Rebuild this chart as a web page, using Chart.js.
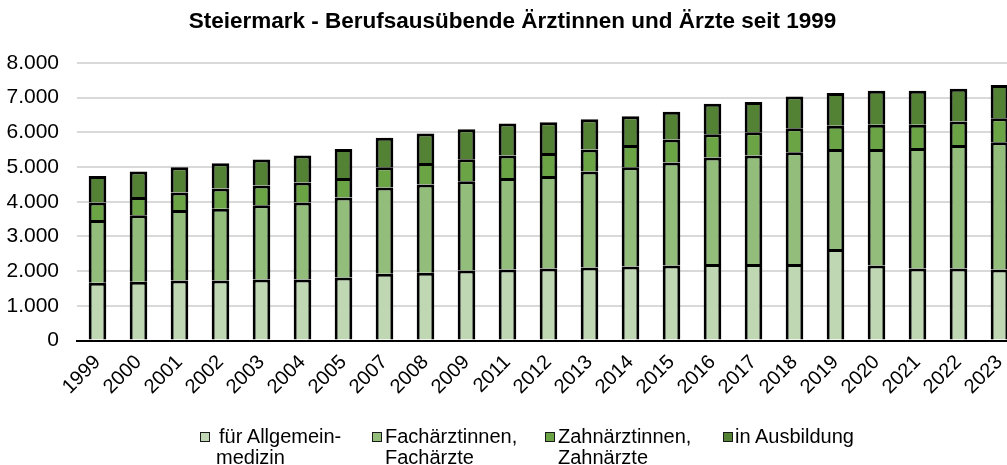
<!DOCTYPE html>
<html>
<head>
<meta charset="utf-8">
<script src="https://cdn.jsdelivr.net/npm/chart.js@4"></script>
<style>
html, body { margin: 0; padding: 0; background: #fff; overflow: hidden; }
#wrap { position: relative; width: 1020px; height: 465px; }
#legend { position: absolute; left: 0; top: 0; font-family: "Liberation Sans", Arial, sans-serif; font-size: 20px; color: #000; }
.item { position: absolute; top: 426px; line-height: 21px; white-space: nowrap; }
.box { position: absolute; top: 6px; width: 8px; height: 8px; border: 1.5px solid #1a1a1a; }
</style>
</head>
<body>
<div id="wrap">
  <canvas id="mycanvas"></canvas>
  <div id="legend"></div>
</div>
<script>
var years = ['1999','2000','2001','2002','2003','2004','2005','2007','2008','2009','2011','2012','2013','2014','2015','2016','2017','2018','2019','2020','2021','2022','2023'];

// Ärztinnen und Ärzte für Allgemeinmedizin
var allgemein = [1666,1695,1733,1733,1761,1761,1819,1926,1955,2021,2050,2079,2108,2137,2166,2204,2204,2204,2637,2166,2079,2079,2050];
// Fachärztinnen, Fachärzte
var fach = [1808,1914,2030,2069,2137,2215,2301,2483,2541,2570,2637,2665,2763,2859,2965,3071,3129,3225,2887,3358,3474,3561,3668];
// Zahnärztinnen, Zahnärzte
var zahn = [502,529,502,578,569,577,567,587,624,636,646,665,636,644,664,674,673,693,665,694,665,675,693];
// in Ausbildung
var ausbildung = [768,733,731,731,750,780,837,846,848,866,924,886,875,828,798,875,867,914,943,981,981,942,953];

var seriesNames = [['für Allgemein-', 'medizin'], ['Fachärztinnen,', 'Fachärzte'], ['Zahnärztinnen,', 'Zahnärzte'], ['in Ausbildung']];
var seriesColors = ['#bfd7b2', '#93bd7b', '#6aa444', '#548235'];

var chartdata = {
  labels: years,
  datasets: [allgemein, fach, zahn, ausbildung].map(function (d, i) {
    return {
      label: seriesNames[i].join(' '),
      data: d,
      backgroundColor: seriesColors[i],
      borderColor: '#000',
      borderWidth: 3,
      barPercentage: 0.43,
      categoryPercentage: 1
    };
  })
};

Chart.defaults.font.family = '"Liberation Sans", Arial, sans-serif';
Chart.defaults.color = '#000';

var ctx = document.querySelector('#mycanvas');
var barGraph = new Chart(ctx, {
  type: 'bar',
  data: chartdata,
  options: {
    responsive: true,
    maintainAspectRatio: false,
    animation: false,
    layout: { padding: { left: 5, right: 0, top: 6, bottom: 64 } },
    plugins: {
      title: {
        display: true,
        text: 'Steiermark - Berufsausübende Ärztinnen und Ärzte seit 1999',
        font: { size: 22.5, weight: 'bold' },
        padding: { top: 2, bottom: 28 }
      },
      legend: { display: false },
      tooltip: { enabled: false }
    },
    scales: {
      x: {
        stacked: true,
        grid: { display: false },
        border: { color: '#000', width: 2 },
        ticks: { minRotation: 45, maxRotation: 45, font: { size: 20 }, padding: 2 },
        afterFit: function (scale) { scale.paddingLeft = 0; scale.paddingRight = 0; }
      },
      y: {
        stacked: true,
        min: 0,
        max: 8000,
        grid: { color: '#d9d9d9', lineWidth: 2, drawTicks: false },
        border: { display: false },
        ticks: {
          stepSize: 1000,
          padding: 18,
          font: { size: 21 },
          callback: function (v) { return v.toLocaleString('de-DE'); }
        },
        afterFit: function (scale) { scale.width = 72; }
      }
    }
  }
});

// legend below the chart, one entry per series
var legendLeft = [200, 372, 545, 723];
var legendTextLeft = [16, 13, 13, 12];
var legend = document.getElementById('legend');
seriesNames.forEach(function (name, i) {
  var item = document.createElement('div');
  item.className = 'item';
  item.style.left = legendLeft[i] + 'px';
  var box = document.createElement('span');
  box.className = 'box';
  box.style.background = seriesColors[i];
  item.appendChild(box);
  var txt = document.createElement('div');
  txt.style.marginLeft = legendTextLeft[i] + 'px';
  if (i === 0) txt.style.textIndent = '3px';
  txt.innerHTML = name.join('<br>');
  item.appendChild(txt);
  legend.appendChild(item);
});
</script>
</body>
</html>
